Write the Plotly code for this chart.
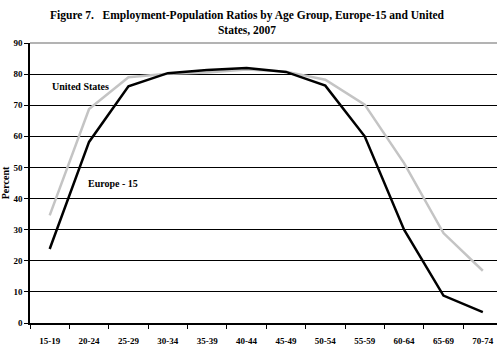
import plotly.graph_objects as go

age_groups = ["15-19", "20-24", "25-29", "30-34", "35-39", "40-44",
              "45-49", "50-54", "55-59", "60-64", "65-69", "70-74"]
us_values = [34.6, 68.8, 79.0, 80.1, 80.5, 81.5, 80.8, 78.2, 70.2, 51.4, 28.9, 16.8]
eu15_values = [23.8, 58.2, 76.1, 80.3, 81.3, 82.0, 80.7, 76.3, 60.0, 30.0, 8.8, 3.5]
y_ticks = [0, 10, 20, 30, 40, 50, 60, 70, 80, 90]

SERIF = "Liberation Serif"

fig = go.Figure()
fig.add_trace(go.Scatter(x=age_groups, y=us_values, mode="lines", name="United States",
                         line=dict(color="#c4c4c4", width=2.5)))
fig.add_trace(go.Scatter(x=age_groups, y=eu15_values, mode="lines", name="Europe - 15",
                         line=dict(color="#000000", width=2.5)))

fig.update_layout(
    width=497, height=364,
    margin=dict(l=30, r=0, t=43, b=41),
    paper_bgcolor="white", plot_bgcolor="white",
    showlegend=False,
    title=dict(text="Figure 7.   Employment-Population Ratios by Age Group, Europe-15 and United<br>States, 2007",
               x=0.497, xanchor="center", y=0.948, yanchor="top",
               font=dict(family=SERIF, size=11.5, color="black", weight="bold")),
    font=dict(family=SERIF, size=9, color="black"),
)
fig.update_xaxes(type="category", range=[-0.5, 11.36], showgrid=False, automargin=False,
                 showline=True, linecolor="black", linewidth=1.5,
                 ticks="outside", tickson="boundaries", ticklen=4, tickcolor="black",
                 ticklabelstandoff=8,
                 tickfont=dict(family=SERIF, size=9, weight="bold"))
fig.update_yaxes(range=[0, 90], tickvals=y_ticks, showgrid=True, gridcolor="black", gridwidth=1,
                 automargin=False,
                 showline=True, linecolor="black", linewidth=1.5, zeroline=False,
                 ticks="outside", ticklen=4, tickcolor="black",
                 tickfont=dict(family=SERIF, size=9, weight="bold"),
                 title=dict(text="Percent", font=dict(family=SERIF, size=10, weight="bold"), standoff=4))

fig.add_shape(type="line", xref="paper", yref="paper", x0=0, x1=1, y0=1, y1=1,
              line=dict(color="#9a9a9a", width=1.5), layer="above")

fig.add_annotation(x=0.79, y=76, xref="x", yref="y", xanchor="center", text="United States",
                   showarrow=False, font=dict(family=SERIF, size=10, weight="bold"))
fig.add_annotation(x=1.62, y=45, xref="x", yref="y", xanchor="center", text="Europe - 15",
                   showarrow=False, font=dict(family=SERIF, size=10, weight="bold"))

fig.write_html("out.html", config={"displayModeBar": False},
               post_script="document.body.style.margin='0';document.body.style.padding='0';")
